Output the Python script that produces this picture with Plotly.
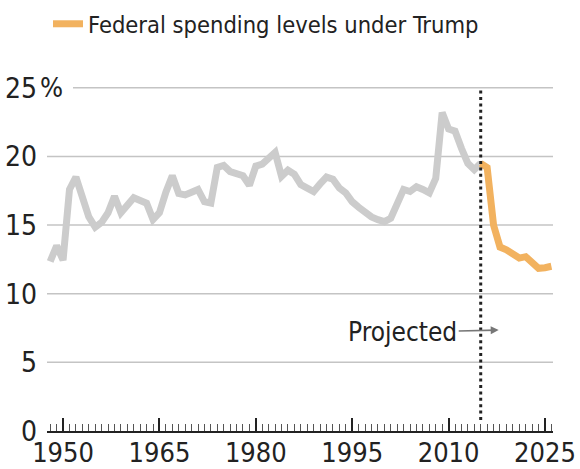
import plotly.graph_objects as go

FONT = "DejaVu Sans Condensed, Liberation Sans Narrow, sans-serif"

hist_years = list(range(1948, 2016))
hist_values = [
    12.35, 13.5, 12.45, 17.6, 18.5, 17.0, 15.6, 14.85, 15.2, 15.9,
    17.1, 15.9, 16.5, 17.0, 16.8, 16.6, 15.4, 15.9, 17.4, 18.6,
    17.3, 17.2, 17.4, 17.6, 16.7, 16.6, 19.2, 19.35, 18.9, 18.75,
    18.6, 17.9, 19.3, 19.45, 19.9, 20.3, 18.55, 19.0, 18.7, 17.95,
    17.7, 17.45, 18.0, 18.5, 18.35, 17.7, 17.35, 16.7, 16.3, 15.9,
    15.6, 15.4, 15.25, 15.5, 16.7, 17.6, 17.45, 17.8, 17.6, 17.35,
    18.4, 23.2, 22.0, 21.85, 20.6, 19.5, 19.05, 19.5,
]
proj_years = list(range(2015, 2027))
proj_values = [19.5, 19.2, 15.0, 13.4, 13.2, 12.9, 12.6, 12.7, 12.25, 11.85, 11.9, 12.0]

y_ticks = [0, 5, 10, 15, 20, 25]
y_ticktext = ["0", "5", "10", "15", "20", "25"]
x_ticks = [1950, 1965, 1980, 1995, 2010, 2025]
projection_year = 2015
legend_label = "Federal spending levels under Trump"

GRAY = "#cccccc"
ORANGE = "#f2b25f"

fig = go.Figure()
fig.add_trace(go.Scatter(x=hist_years, y=hist_values, mode="lines",
                         line=dict(color=GRAY, width=7), showlegend=False,
                         hoverinfo="skip"))
fig.add_trace(go.Scatter(x=proj_years, y=proj_values, mode="lines",
                         line=dict(color=ORANGE, width=7), name=legend_label,
                         showlegend=True))

# gridlines
L, R, T, B = 47, 27, 81, 38
W, H = 580 - L - R, 469 - T - B
for v in y_ticks[1:]:
    x0 = 0 if v != 25 else (73 - L) / W
    fig.add_shape(type="line", xref="paper", yref="y", x0=x0, x1=1, y0=v, y1=v,
                  line=dict(color="#c4c4c4", width=1.5), layer="below")

# projection divider
fig.add_shape(type="line", xref="x", yref="y", x0=projection_year, x1=projection_year,
              y0=0.8, y1=25, line=dict(color="#222222", width=3, dash="3px,3.4px"))

fig.add_annotation(xref="paper", yref="y", x=(38 - L) / W, y=25, text="%",
                   showarrow=False, xanchor="left", yanchor="middle",
                   font=dict(family=FONT, size=27, color="#222222"))

fig.add_annotation(xref="x", yref="y", x=2017.8, y=7.35, text="Projected",
                   showarrow=True, arrowhead=2, arrowsize=1, arrowwidth=1.6,
                   arrowcolor="#777777", ax=-96, ay=2, standoff=0,
                   font=dict(family=FONT, size=26, color="#222222"))

fig.update_layout(
    width=580, height=469,
    margin=dict(l=L, r=R, t=T, b=B, pad=0, autoexpand=False),
    plot_bgcolor="white", paper_bgcolor="white",
    font=dict(family=FONT, size=28, color="#222222"),
    showlegend=True,
    legend=dict(x=(48 - L) / W, y=(431 - 24) / H, xanchor="left", yanchor="middle",
                bgcolor="rgba(0,0,0,0)", borderwidth=0,
                font=dict(family=FONT, size=23.5, color="#222222")),
    xaxis=dict(range=[1947.5, 2026.25], tickvals=x_ticks, showgrid=False,
               zeroline=False, showline=True, linecolor="#222222", linewidth=2,
               ticks="inside", ticklen=13, tickwidth=2, tickcolor="#222222",
               minor=dict(dtick=1, tick0=1948, ticks="inside", ticklen=7,
                          tickwidth=1.3, tickcolor="#555555", showgrid=False),
               ticklabelstandoff=-3, automargin=False,
               tickfont=dict(family=FONT, size=27, color="#222222"),
               fixedrange=True),
    yaxis=dict(range=[0, 25.5], tickvals=y_ticks, ticktext=y_ticktext,
               showgrid=False, zeroline=False, showline=False, ticks="",
               ticklabelstandoff=9, automargin=False,
               tickfont=dict(family=FONT, size=28, color="#222222"),
               fixedrange=True),
)

fig.write_html("out.html")
